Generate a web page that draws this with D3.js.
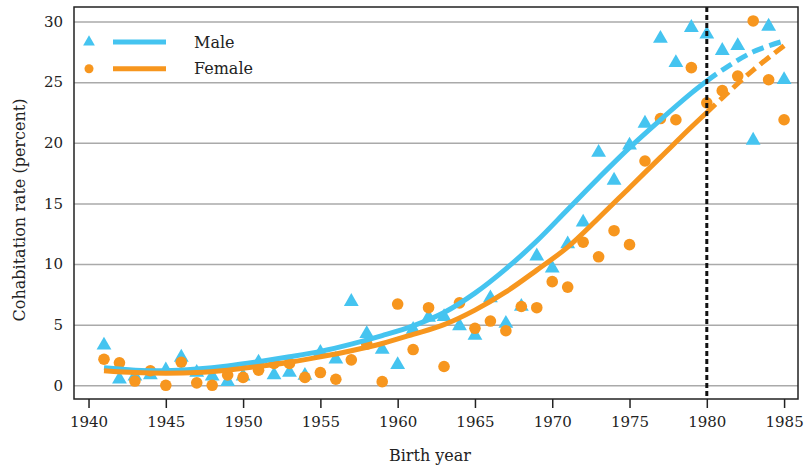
<!DOCTYPE html>
<html>
<head>
<meta charset="utf-8">
<script src="https://d3js.org/d3.v7.min.js"></script>
<style>
  body { margin: 0; background: #fff; }
  svg text { font-family: "DejaVu Serif", serif; fill: #222; }
  .grid line { stroke: #aaa; stroke-width: 1.5px; }
  .grid .domain { stroke: none; }
  .axis .domain { stroke: none; }
  .axis line { stroke: #222; stroke-width: 1.5px; }
</style>
</head>
<body>
<svg id="chart" width="806" height="473"></svg>
<script>
// birth cohorts
const years = [1941, 1942, 1943, 1944, 1945, 1946, 1947, 1948, 1949, 1950,
               1951, 1952, 1953, 1954, 1955, 1956, 1957, 1958, 1959, 1960,
               1961, 1962, 1963, 1964, 1965, 1966, 1967, 1968, 1969, 1970,
               1971, 1972, 1973, 1974, 1975, 1976, 1977, 1978, 1979, 1980,
               1981, 1982, 1983, 1984, 1985];

// observed rates (percent), one per cohort
const maleRate = [3.3, 0.5, 0.75, 0.85, 1.25, 2.3, 1.05, 0.75, 0.3, 0.75,
                  1.9, 0.85, 1.05, 0.8, 2.7, 2.15, 6.9, 4.25, 2.95, 1.7,
                  4.6, 5.6, 5.65, 4.9, 4.1, 7.2, 5.1, 6.5, 10.65, 9.65,
                  11.65, 13.45, 19.2, 16.9, 19.8, 21.6, 28.6, 26.6, 29.5, 28.95,
                  27.6, 28.0, 20.2, 29.6, 25.2];
const femaleRate = [2.15, 1.85, 0.35, 1.2, 0.0, 1.9, 0.2, 0.0, 0.85, 0.65,
                    1.25, 1.8, 1.8, 0.65, 1.05, 0.5, 2.1, 3.4, 0.3, 6.7,
                    2.95, 6.4, 1.55, 6.8, 4.7, 5.3, 4.5, 6.5, 6.4, 8.55,
                    8.1, 11.8, 10.6, 12.75, 11.6, 18.5, 22.0, 21.9, 26.2, 23.3,
                    24.3, 25.5, 30.05, 25.2, 21.9];

// fitted trend, read at a few years
const fitYears  = [1941, 1943, 1945, 1947, 1949, 1951, 1953, 1955, 1957, 1959,
                   1961, 1963, 1965, 1967, 1969, 1971, 1973, 1975, 1977, 1979,
                   1980, 1981, 1983, 1985];
const maleFit   = [1.45, 1.25, 1.2, 1.35, 1.6, 1.95, 2.35, 2.8, 3.4, 4.1,
                   4.9, 6.0, 7.6, 9.6, 11.9, 14.5, 17.1, 19.6, 21.9, 24.1,
                   25.1, 26.0, 27.5, 28.4];
const femaleFit = [1.2, 1.05, 1.0, 1.05, 1.25, 1.55, 1.9, 2.35, 2.85, 3.45,
                   4.2, 5.0, 6.2, 7.7, 9.5, 11.4, 13.8, 16.3, 18.8, 21.3,
                   22.5, 23.7, 26.0, 28.0];

const xTicks = [1940, 1945, 1950, 1955, 1960, 1965, 1970, 1975, 1980, 1985];
const yTicks = [0, 5, 10, 15, 20, 25, 30];
const cutoffYear = 1980;

const blue = "#45c4f0", orange = "#f7961e";

const svg = d3.select("#chart");
const margin = {top: 7, right: 8, bottom: 74, left: 74};
const width = +svg.attr("width") - margin.left - margin.right;
const height = +svg.attr("height") - margin.top - margin.bottom;

const x = d3.scaleLinear().domain([1939.06, 1985.9]).range([0, width]);
const y = d3.scaleLinear().domain([-1.13, 31.2]).range([height, 0]);

const plot = svg.append("g").attr("transform", `translate(${margin.left},${margin.top})`);

// horizontal gridlines
plot.append("g").attr("class", "grid")
    .call(d3.axisLeft(y).tickValues(yTicks).tickFormat("").tickSize(-width));

// y tick labels, no tick marks
plot.append("g").selectAll("text.ylab")
    .data(yTicks)
    .join("text")
    .attr("class", "ylab")
    .attr("x", -11)
    .attr("y", d => y(d))
    .attr("dy", "0.35em")
    .attr("text-anchor", "end")
    .style("font-size", "15px")
    .text(d => d);

// x axis with ticks below the frame
const xAxis = plot.append("g").attr("class", "axis")
    .attr("transform", `translate(0,${height})`)
    .call(d3.axisBottom(x).tickValues(xTicks).tickFormat(d3.format("d")).tickSize(9).tickPadding(8));
xAxis.selectAll("text").style("font-size", "15px").attr("fill", "#222");

// fitted lines: solid up to cutoff, dashed after
const line = d3.line().x(d => x(d[0])).y(d => y(d[1])).curve(d3.curveCatmullRom);

function drawFit(vals, color) {
  const pts = fitYears.map((yr, i) => [yr, vals[i]]);
  plot.append("path")
      .datum(pts.filter(p => p[0] <= cutoffYear))
      .attr("d", line)
      .attr("fill", "none").attr("stroke", color).attr("stroke-width", 5);
  plot.append("path")
      .datum(pts.filter(p => p[0] >= cutoffYear))
      .attr("d", line)
      .attr("fill", "none").attr("stroke", color).attr("stroke-width", 5)
      .attr("stroke-dasharray", "12,6");
}

const triangle = d3.symbol().type(d3.symbolTriangle).size(95);

// points
plot.append("g").selectAll("path.male")
    .data(years.map((yr, i) => [yr, maleRate[i]]))
    .join("path")
    .attr("class", "male")
    .attr("d", triangle)
    .attr("transform", d => `translate(${x(d[0])},${y(d[1])})`)
    .attr("fill", blue);

plot.append("g").selectAll("circle.female")
    .data(years.map((yr, i) => [yr, femaleRate[i]]))
    .join("circle")
    .attr("class", "female")
    .attr("cx", d => x(d[0]))
    .attr("cy", d => y(d[1]))
    .attr("r", 5.8)
    .attr("fill", orange);

drawFit(maleFit, blue);
drawFit(femaleFit, orange);

// 1980 marker
plot.append("line")
    .attr("x1", x(cutoffYear)).attr("x2", x(cutoffYear))
    .attr("y1", 0).attr("y2", height)
    .attr("stroke", "#111").attr("stroke-width", 3)
    .attr("stroke-dasharray", "5,3");

// frame
plot.append("rect")
    .attr("width", width).attr("height", height)
    .attr("fill", "none").attr("stroke", "#222").attr("stroke-width", 1.5);

// legend
const legend = plot.append("g").attr("transform", "translate(15,35)");
const items = [["Male", blue, "tri"], ["Female", orange, "dot"]];
items.forEach((it, i) => {
  const g = legend.append("g").attr("transform", `translate(0,${i * 26.7})`);
  if (it[2] === "tri") {
    g.append("path").attr("d", d3.symbol().type(d3.symbolTriangle).size(60)).attr("fill", it[1]);
  } else {
    g.append("circle").attr("r", 4.5).attr("fill", it[1]);
  }
  g.append("line").attr("x1", 24).attr("x2", 77).attr("stroke", it[1]).attr("stroke-width", 5);
  g.append("text").attr("x", 105).attr("dy", "0.35em").style("font-size", "16px").text(it[0]);
});

// axis titles
svg.append("text")
    .attr("x", 430).attr("y", 461)
    .attr("text-anchor", "middle")
    .style("font-size", "16px")
    .text("Birth year");

svg.append("text")
    .attr("transform", "translate(25,210) rotate(-90)")
    .attr("text-anchor", "middle")
    .style("font-size", "16px")
    .text("Cohabitation rate (percent)");
</script>
</body>
</html>
